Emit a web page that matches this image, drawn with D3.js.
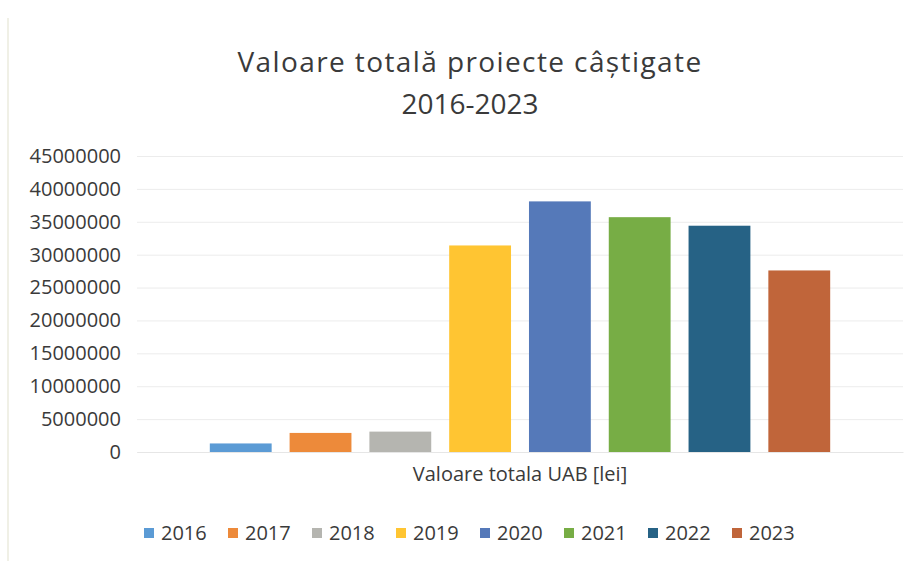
<!DOCTYPE html>
<html>
<head>
<meta charset="utf-8">
<script src="https://cdn.jsdelivr.net/npm/d3@7"></script>
<style>
  body { margin: 0; background: #fff; }
  #chart text { font-family: "Open Sans", Lato, sans-serif; fill: #3a3a3a; }
</style>
</head>
<body>
<div id="chart"></div>
<script>
"use strict";

const years = ["2016", "2017", "2018", "2019", "2020", "2021", "2022", "2023"];
const values = [1300000, 2900000, 3100000, 31400000, 38100000, 35700000, 34400000, 27600000];
const colors = ["#5b9bd5", "#ed8a3a", "#b5b5b0", "#ffc532", "#5579b9", "#77ad45", "#266285", "#c0653a"];
const yTicks = [0, 5000000, 10000000, 15000000, 20000000, 25000000, 30000000, 35000000, 40000000, 45000000];
const category = "Valoare totala UAB [lei]";
const titleLines = ["Valoare totală proiecte câștigate", "2016-2023"];

const W = 913, H = 561;
const plot = { left: 137, right: 903, top: 156, bottom: 452 };

const svg = d3.select("#chart").append("svg")
  .attr("width", W)
  .attr("height", H);

// faint page border on the left, as in the scan
svg.append("line")
  .attr("x1", 8).attr("x2", 8)
  .attr("y1", 18).attr("y2", H)
  .attr("stroke", "#f0f0e6")
  .attr("stroke-width", 2);

// title
svg.append("g").selectAll("text")
  .data(titleLines)
  .enter()
  .append("text")
  .attr("x", 470)
  .attr("y", (d, i) => 72 + i * 42)
  .attr("text-anchor", "middle")
  .style("font-size", "28px")
  .style("letter-spacing", (d, i) => (i === 0 ? "1.4px" : "0px"))
  .text((d) => d);

const y = d3.scaleLinear()
  .domain([0, 45000000])
  .range([plot.bottom, plot.top]);

const x0 = d3.scaleBand()
  .domain([category])
  .range([plot.left, plot.right])
  .paddingOuter(0.1);

const x1 = d3.scaleBand()
  .domain(years)
  .range([0, x0.bandwidth()])
  .paddingInner(0.225)
  .paddingOuter(0.1125);

// gridlines
svg.append("g")
  .attr("transform", `translate(${plot.left},0)`)
  .call(d3.axisLeft(y).tickValues(yTicks).tickSize(-(plot.right - plot.left)).tickFormat(""))
  .call((g) => g.select(".domain").remove())
  .call((g) => g.selectAll("line").attr("stroke", "#ececec"));

// y tick labels
svg.append("g")
  .attr("transform", `translate(121,0)`)
  .call(d3.axisLeft(y).tickValues(yTicks).tickSize(0).tickPadding(0).tickFormat(d3.format("d")))
  .call((g) => g.select(".domain").remove())
  .call((g) => g.selectAll("text").style("font-size", "20px").attr("fill", "#3a3a3a"));

// bars
svg.append("g").selectAll("rect")
  .data(years)
  .enter()
  .append("rect")
  .attr("x", (d) => x0(category) + x1(d))
  .attr("y", (d, i) => y(values[i]))
  .attr("width", x1.bandwidth())
  .attr("height", (d, i) => y(0) - y(values[i]))
  .attr("fill", (d, i) => colors[i]);

// category axis label
svg.append("g")
  .attr("transform", `translate(0,${plot.bottom})`)
  .call(d3.axisBottom(x0).tickSize(0).tickPadding(15))
  .call((g) => g.select(".domain").attr("stroke", "#e6e6e6"))
  .call((g) => g.selectAll("text").style("font-size", "20px").attr("fill", "#3a3a3a"));

// legend
const legend = svg.append("g")
  .attr("transform", "translate(144,533)");

const item = legend.selectAll("g")
  .data(years)
  .enter()
  .append("g")
  .attr("transform", (d, i) => `translate(${i * 84},0)`);

item.append("rect")
  .attr("x", 0).attr("y", -5)
  .attr("width", 10).attr("height", 10)
  .attr("fill", (d, i) => colors[i]);

item.append("text")
  .attr("x", 17)
  .attr("y", 7)
  .style("font-size", "20px")
  .text((d) => d);
</script>
</body>
</html>
